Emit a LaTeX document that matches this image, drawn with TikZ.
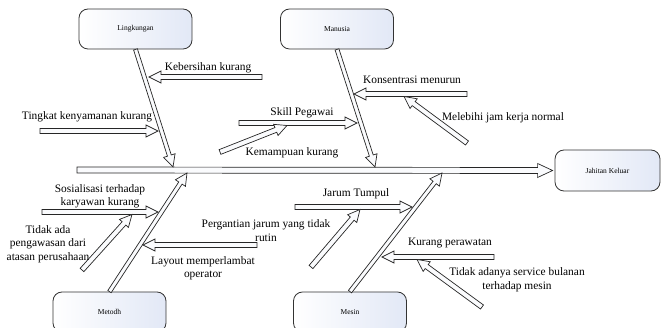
\documentclass[tikz,border=0pt]{standalone}
\usepackage{fontspec}
\setmainfont{Liberation Serif}
\usetikzlibrary{calc}

% hollow block arrow from #2 to #3, shaft half width #1
\newcommand{\blockarrow}[3][2.5pt]{%
  \path (#2) coordinate (ba0) (#3) coordinate (ba1) ($(ba1)!12pt!(ba0)$) coordinate (bah);
  \draw[arrowfill] ($(ba0)!#1!90:(ba1)$) -- ($(bah)!#1!-90:(ba0)$) -- ($(bah)!6pt!-90:(ba0)$) -- (ba1)
    -- ($(bah)!6pt!90:(ba0)$) -- ($(bah)!#1!90:(ba0)$) -- ($(ba0)!#1!-90:(ba1)$) -- cycle;}

\begin{document}
\begin{tikzpicture}[x=1pt, y=-1pt,
  causebox/.style={draw=black!80, line width=0.8pt, rounded corners=9pt, minimum width=113pt, minimum height=40pt,
    inner sep=0pt, left color=white, right color={rgb,255:red,226;green,232;blue,246}, font=\fontsize{7.5}{9}\selectfont},
  arrowfill/.style={draw=black!85, line width=0.7pt, fill={rgb,255:red,250;green,251;blue,253}, line join=miter},
  lbl/.style={inner sep=0pt, align=center, font=\fontsize{11.4}{13.5}\selectfont}]

\clip (0,0) rectangle (661,328);
\useasboundingbox (0,0) rectangle (661,328);

\node[causebox] (ling) at (135.5, 29) {Lingkungan};
\node[causebox] (manu) at (337, 29) {Manusia};
\node[causebox] (meto) at (109.5, 312) {Metodh};
\node[causebox] (mesi) at (350, 312) {Mesin};
\node[causebox, minimum width=105pt, minimum height=41pt] (jahit) at (607.5, 170.5) {Jahitan Keluar};

% spine
\coordinate (spine) at (77, 170);
\path (spine) coordinate (ba0) ([xshift=-2pt]jahit.west) coordinate (ba1) ($(ba1)!15pt!(ba0)$) coordinate (bah);
\draw[arrowfill] ($(ba0)!3pt!90:(ba1)$) -- ($(bah)!3pt!-90:(ba0)$) -- ($(bah)!7pt!-90:(ba0)$) -- (ba1)
  -- ($(bah)!7pt!90:(ba0)$) -- ($(bah)!3pt!90:(ba0)$) -- ($(ba0)!3pt!-90:(ba1)$) -- cycle;

% main bones
\coordinate (lingTip) at (173, 167);
\coordinate (manuTip) at (375, 167);
\coordinate (metoTip) at (187, 173);
\coordinate (mesiTip) at (442, 173);
\blockarrow[2pt]{ling.south}{lingTip}
\blockarrow[2pt]{manu.south}{manuTip}
\blockarrow[2pt]{meto.north}{metoTip}
\blockarrow[2pt]{mesi.north}{mesiTip}

% Lingkungan
\coordinate (keberA) at (262, 77);   \coordinate (keberB) at (149, 77);
\coordinate (tingA) at (40, 131);    \coordinate (tingB) at (158, 131);
\blockarrow{keberA}{keberB}
\blockarrow{tingA}{tingB}
\node[lbl] (keber) at (208, 68) {Kebersihan kurang};
\node[lbl] (ting) at (87, 117) {Tingkat kenyamanan kurang};

% Manusia
\coordinate (skillA) at (239, 123);  \coordinate (skillB) at (357, 123);
\coordinate (kemA) at (220, 152);    \coordinate (kemB) at (287, 125.5);
\coordinate (konA) at (467, 94);     \coordinate (konB) at (354, 94);
\coordinate (lebA) at (467, 143);    \coordinate (lebB) at (404, 96.5);
\blockarrow{skillA}{skillB}
\blockarrow{kemA}{kemB}
\blockarrow{konA}{konB}
\blockarrow{lebA}{lebB}
\node[lbl] (skill) at (302, 113) {Skill Pegawai};
\node[lbl] (kem) at (292, 153) {Kemampuan kurang};
\node[lbl] (kon) at (412, 80) {Konsentrasi menurun};
\node[lbl] (leb) at (503, 118) {Melebihi jam kerja normal};

% Metodh
\coordinate (sosA) at (42, 212);     \coordinate (sosB) at (158, 212);
\coordinate (awasA) at (82, 270);    \coordinate (awasB) at (132, 214.5);
\coordinate (layA) at (257, 245);    \coordinate (layB) at (143, 245);
\blockarrow{sosA}{sosB}
\blockarrow{awasA}{awasB}
\blockarrow{layA}{layB}
\node[lbl] (sos) at (100, 196.5) {Sosialisasi terhadap\\karyawan kurang};
\node[lbl] (awas) at (48, 244) {Tidak ada\\pengawasan dari\\atasan perusahaan};
\node[lbl] (lay) at (203, 268.5) {Layout memperlambat\\operator};

% Mesin
\coordinate (jarA) at (295, 207);    \coordinate (jarB) at (412, 207);
\coordinate (ganA) at (311, 267);    \coordinate (ganB) at (360, 209.5);
\coordinate (rawA) at (494, 257);    \coordinate (rawB) at (382, 257);
\coordinate (servA) at (482, 307);   \coordinate (servB) at (417, 259.5);
\blockarrow{jarA}{jarB}
\blockarrow{ganA}{ganB}
\blockarrow{rawA}{rawB}
\blockarrow{servA}{servB}
\node[lbl] (jar) at (356, 194) {Jarum Tumpul};
\node[lbl] (gan) at (266, 230.5) {Pergantian jarum yang tidak\\rutin};
\node[lbl] (raw) at (450, 243) {Kurang perawatan};
\node[lbl] (serv) at (517, 280) {Tidak adanya service bulanan\\terhadap mesin};

\end{tikzpicture}
\end{document}
